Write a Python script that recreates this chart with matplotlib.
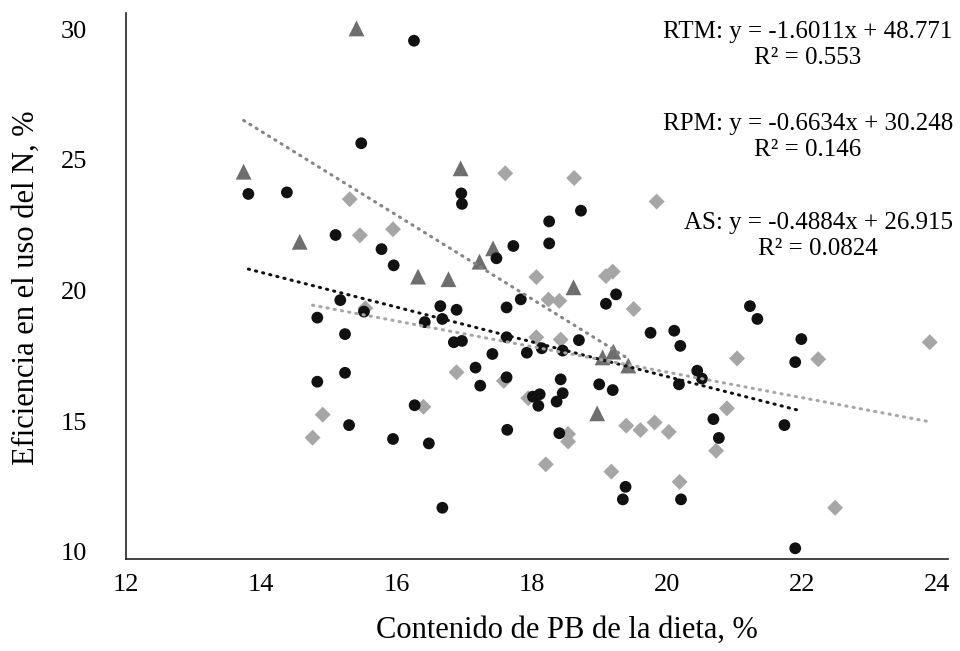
import numpy as np
import matplotlib
matplotlib.use("Agg")
import matplotlib.pyplot as plt
from matplotlib.transforms import ScaledTranslation

# RTM (triangles)
rtm_x = [15.41, 13.74, 14.57, 16.95, 16.32, 16.77, 17.23, 17.43, 18.62, 19.05,
         19.21, 19.43, 18.97]
rtm_y = [30.29, 24.81, 22.13, 24.94, 20.80, 20.70, 21.37, 21.88, 20.39, 17.71,
         17.93, 17.40, 15.57]

# RPM (black circles)
rpm_x = [16.26, 15.48, 13.81, 14.38, 15.10, 15.78, 15.96, 15.17, 15.52, 14.83,
         15.24, 15.24, 14.83, 16.27, 15.30, 15.95, 16.96, 16.97, 18.73, 18.26,
         17.73, 18.26, 17.48, 19.25, 19.10, 16.65, 16.89, 17.63, 17.84, 16.42,
         16.68, 16.85, 16.97, 17.63, 17.42, 17.93, 18.15, 18.46, 18.70, 19.76,
         20.11, 20.20, 20.45, 20.18, 20.52, 17.17, 17.24, 17.63, 18.43, 18.46,
         18.37, 18.02, 18.12, 18.10, 19.00, 19.20, 16.48, 17.64, 18.41, 16.68,
         19.39, 19.35, 20.21, 21.23, 21.34, 21.99, 21.90, 20.69, 20.77, 21.74,
         21.90]
rpm_y = [29.82, 25.90, 23.96, 24.02, 22.39, 21.85, 21.23, 19.90, 19.46, 19.23,
         18.60, 17.12, 16.78, 15.88, 15.12, 14.59, 23.98, 23.58, 23.32, 22.91,
         21.97, 22.07, 21.50, 20.12, 19.76, 19.67, 19.53, 19.62, 19.93, 19.06,
         19.18, 18.29, 18.34, 18.48, 17.84, 17.89, 18.06, 17.97, 18.37, 18.65,
         18.73, 18.15, 17.20, 16.68, 16.90, 17.32, 16.63, 16.95, 16.87, 16.34,
         16.02, 16.21, 16.30, 15.86, 16.68, 16.46, 14.42, 14.94, 14.81, 11.96,
         12.76, 12.28, 12.28, 19.67, 19.18, 18.41, 17.53, 15.35, 14.63, 15.12,
         10.41]

# AS (gray diamonds)
as_x = [15.31, 15.46, 15.95, 17.61, 18.63, 19.85, 18.07, 19.10, 19.20, 18.25,
        18.41, 19.51, 18.07, 18.43, 16.89, 17.59, 17.95, 16.40, 18.54, 18.54,
        19.40, 19.61, 19.82, 20.03, 18.21, 19.18, 20.19, 21.04, 22.24, 23.89,
        20.89, 20.73, 22.49, 14.91, 14.76, 15.54]
as_y = [23.76, 22.38, 22.61, 24.75, 24.57, 23.67, 20.78, 20.82, 20.99, 19.92,
        19.87, 19.56, 18.48, 18.39, 17.14, 16.81, 16.15, 15.82, 14.78, 14.49,
        15.10, 14.93, 15.22, 14.86, 13.62, 13.34, 12.95, 17.67, 17.64, 18.29,
        15.76, 14.14, 11.96, 15.52, 14.64, 19.59]

# trendline coefficients (slope, intercept) and labels
rtm_fit = (-1.6011, 48.771)
rpm_fit = (-0.6634, 30.248)
as_fit = (-0.4884, 26.915)
labels = ["RTM: y = -1.6011x + 48.771\nR² = 0.553",
          "RPM: y = -0.6634x + 30.248\nR² = 0.146",
          "AS: y = -0.4884x + 26.915\nR² = 0.0824"]

plt.rcParams["font.family"] = ["Liberation Serif", "DejaVu Serif"]

fig = plt.figure(figsize=(9.6, 6.51), dpi=100)
ax = fig.add_axes([126 / 960, 1 - 559 / 651, 822 / 960, 546 / 651])

c_rtm, c_rpm, c_as = "#6e6e6e", "#111111", "#a6a6a6"

ax.scatter(as_x, as_y, marker="D", s=66, color=c_as, edgecolors="none", zorder=3)
ax.scatter(rpm_x, rpm_y, marker="o", s=72, color=c_rpm, edgecolors="none", zorder=4)
ax.scatter(rtm_x, rtm_y, marker="^", s=130, color=c_rtm, edgecolors="none", zorder=3)


def trend(xs, fit, color):
    xx = np.array([min(xs), max(xs)])
    ax.plot(xx, fit[0] * xx + fit[1], color=color, lw=2.2,
            linestyle=(0, (0.4, 2.0)), dash_capstyle="round", zorder=5)


trend(rtm_x, rtm_fit, "#858585")
trend(rpm_x, rpm_fit, "#111111")
trend(as_x, as_fit, "#a6a6a6")

ax.set_xlim(12, 24.16)
ax.set_ylim(10, 30.88)
ax.set_xticks(range(12, 25, 2))
ax.set_yticks(range(10, 31, 5))
ax.tick_params(length=0, labelsize=19)
ax.tick_params(axis="y", pad=28)
ax.tick_params(axis="x", pad=11)
# y labels sit a little above their gridline in the original
off = ScaledTranslation(0, 0.07, fig.dpi_scale_trans)
for lab in ax.get_yticklabels():
    lab.set_transform(lab.get_transform() + off)

for s in ["top", "right"]:
    ax.spines[s].set_visible(False)
for s in ["left", "bottom"]:
    ax.spines[s].set_linewidth(1.2)
    ax.spines[s].set_color("#222222")

fig.text(567 / 960, 1 - 630 / 651, "Contenido de PB de la dieta, %",
         ha="center", va="center", fontsize=22)
fig.text(26 / 960, 1 - 288 / 651, "Eficiencia en el uso del N, %",
         ha="center", va="center", rotation=90, fontsize=22)

for txt, px, py in zip(labels, [808, 808, 818], [45, 137, 236]):
    fig.text(px / 960, 1 - py / 651, txt, ha="center", va="center",
             multialignment="center", fontsize=18, linespacing=1.25)

fig.savefig("out.png", dpi=100)
